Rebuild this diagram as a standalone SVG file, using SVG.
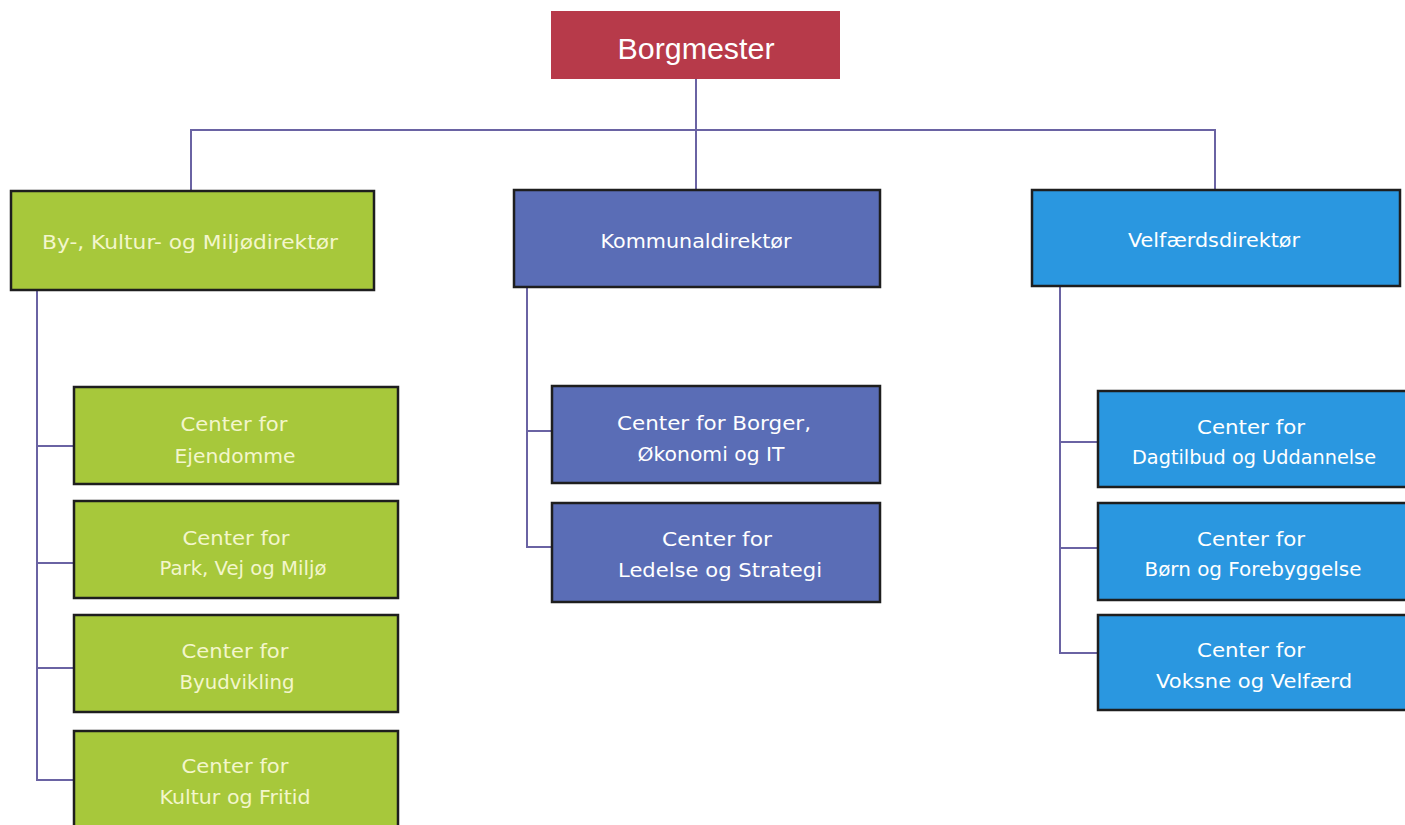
<svg xmlns="http://www.w3.org/2000/svg" width="1405" height="825" viewBox="0 0 1405 825">
<style>
.box{stroke:#1e1e1e;stroke-width:2.5}
.red{fill:#b73a4a}
.green{fill:#a7c83b}
.blue{fill:#5a6db6}
.cyan{fill:#2a97e0}
text{font-family:"DejaVu Sans","Liberation Sans",sans-serif;font-size:19px;text-anchor:middle;fill:#ffffff}
.gt{fill:#f3f6cc}
.big{font-family:"Liberation Sans","DejaVu Sans",sans-serif;font-size:29px}
.conn{fill:none;stroke:#6a63a3;stroke-width:2}
</style>
<rect width="1405" height="825" fill="#ffffff"/>
<g id="connectors">
<path class="conn" d="M696 79 V130 M191 191 V130 H1215 V190 M696 130 V190"/>
<path class="conn" d="M37 290 V780 H74 M37 446 H74 M37 563 H74 M37 668 H74"/>
<path class="conn" d="M527 287 V547 H552 M527 431 H552"/>
<path class="conn" d="M1060 286 V653 H1098 M1060 442 H1098 M1060 548 H1098"/>
</g>
<g id="borgmester">
<rect class="red" x="551" y="11" width="289" height="68"/>
<text class="big" x="696" y="59" textLength="157" lengthAdjust="spacingAndGlyphs">Borgmester</text>
</g>
<g id="by-kultur-miljo">
<rect class="box green" x="11" y="191" width="363" height="99"/>
<text class="gt" x="190" y="249" textLength="296" lengthAdjust="spacingAndGlyphs">By-, Kultur- og Miljødirektør</text>
</g>
<g id="kommunaldirektor">
<rect class="box blue" x="514" y="190" width="366" height="97"/>
<text x="696" y="248" textLength="191" lengthAdjust="spacingAndGlyphs">Kommunaldirektør</text>
</g>
<g id="velfaerdsdirektor">
<rect class="box cyan" x="1032" y="190" width="368" height="96"/>
<text x="1214" y="247" textLength="172" lengthAdjust="spacingAndGlyphs">Velfærdsdirektør</text>
</g>
<g id="ejendomme">
<rect class="box green" x="74" y="387" width="324" height="97"/>
<text class="gt" x="234" y="431" textLength="107" lengthAdjust="spacingAndGlyphs">Center for</text>
<text class="gt" x="235" y="463" textLength="121" lengthAdjust="spacingAndGlyphs">Ejendomme</text>
</g>
<g id="park-vej-miljo">
<rect class="box green" x="74" y="501" width="324" height="97"/>
<text class="gt" x="236" y="545" textLength="107" lengthAdjust="spacingAndGlyphs">Center for</text>
<text class="gt" x="243" y="575" textLength="167" lengthAdjust="spacingAndGlyphs">Park, Vej og Miljø</text>
</g>
<g id="byudvikling">
<rect class="box green" x="74" y="615" width="324" height="97"/>
<text class="gt" x="235" y="658" textLength="107" lengthAdjust="spacingAndGlyphs">Center for</text>
<text class="gt" x="237" y="689" textLength="115" lengthAdjust="spacingAndGlyphs">Byudvikling</text>
</g>
<g id="kultur-fritid">
<rect class="box green" x="74" y="731" width="324" height="100"/>
<text class="gt" x="235" y="773" textLength="107" lengthAdjust="spacingAndGlyphs">Center for</text>
<text class="gt" x="235" y="804" textLength="151" lengthAdjust="spacingAndGlyphs">Kultur og Fritid</text>
</g>
<g id="borger-okonomi-it">
<rect class="box blue" x="552" y="386" width="328" height="97"/>
<text x="714" y="430" textLength="194" lengthAdjust="spacingAndGlyphs">Center for Borger,</text>
<text x="711" y="461" textLength="147" lengthAdjust="spacingAndGlyphs">Økonomi og IT</text>
</g>
<g id="ledelse-strategi">
<rect class="box blue" x="552" y="503" width="328" height="99"/>
<text x="717" y="546" textLength="110" lengthAdjust="spacingAndGlyphs">Center for</text>
<text x="720" y="577" textLength="204" lengthAdjust="spacingAndGlyphs">Ledelse og Strategi</text>
</g>
<g id="dagtilbud-uddannelse">
<rect class="box cyan" x="1098" y="391" width="312" height="96"/>
<text x="1251" y="434" textLength="108" lengthAdjust="spacingAndGlyphs">Center for</text>
<text x="1254" y="464" textLength="244" lengthAdjust="spacingAndGlyphs">Dagtilbud og Uddannelse</text>
</g>
<g id="born-forebyggelse">
<rect class="box cyan" x="1098" y="503" width="312" height="97"/>
<text x="1251" y="546" textLength="108" lengthAdjust="spacingAndGlyphs">Center for</text>
<text x="1253" y="576" textLength="217" lengthAdjust="spacingAndGlyphs">Børn og Forebyggelse</text>
</g>
<g id="voksne-velfaerd">
<rect class="box cyan" x="1098" y="615" width="312" height="95"/>
<text x="1251" y="657" textLength="108" lengthAdjust="spacingAndGlyphs">Center for</text>
<text x="1254" y="688" textLength="196" lengthAdjust="spacingAndGlyphs">Voksne og Velfærd</text>
</g>
</svg>
